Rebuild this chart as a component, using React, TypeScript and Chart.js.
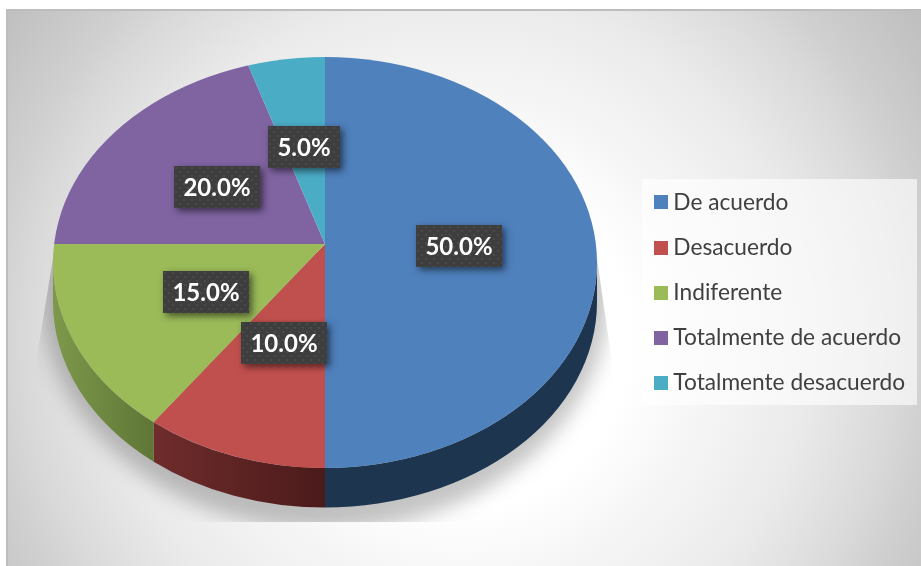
import React, { useEffect, useRef } from "react";
import { Chart, registerables } from "chart.js";

Chart.register(...registerables);

const categories = ["De acuerdo", "Desacuerdo", "Indiferente", "Totalmente de acuerdo", "Totalmente desacuerdo"];
const values = [50, 10, 15, 20, 5];
const sliceColors = ["#4f81bd", "#c0504d", "#9bbb59", "#8064a2", "#4bacc6"];
const wallColors = [
  ["#1e3550", "#1e3550"],
  ["#4b1a1a", "#6f2c2c"],
  ["#5f7636", "#7d994b"],
  ["#4d3c61", "#4d3c61"],
  ["#2d6776", "#2d6776"],
];

const W = 921;
const H = 566;
const APEX = { x: 325, y: 244 };
const ELL = { cx: 325, cy: 262.5, rx: 272, ry: 205.5 };
const DEPTH = 39.5;
const OVER = 1.2;
const LABEL_H = 42;
const LABEL_PAD = 19;

function swatch(color: string) {
  const c = document.createElement("canvas");
  c.width = 14;
  c.height = 14;
  const x = c.getContext("2d")!;
  x.fillStyle = color;
  x.fillRect(0, 0, 14, 14);
  return c;
}

function dotPattern(ctx: CanvasRenderingContext2D) {
  const c = document.createElement("canvas");
  c.width = 8;
  c.height = 8;
  const x = c.getContext("2d")!;
  x.fillStyle = "#3e3e3e";
  x.fillRect(0, 0, 8, 8);
  x.fillStyle = "#4a4a4a";
  x.fillRect(1, 1, 2, 2);
  x.fillRect(5, 5, 2, 2);
  return ctx.createPattern(c, "repeat")!;
}

function ellipseParam(a: number) {
  const oy = (APEX.y - ELL.cy) / ELL.ry;
  const dx = Math.cos(a);
  const dy = Math.sin(a);
  const b = oy * dy;
  const c = oy * oy - 1;
  const t = -b + Math.sqrt(b * b - c);
  return Math.atan2(oy + t * dy, t * dx);
}

const pieLook = {
  id: "pieLook",
  beforeDraw(chart: any) {
    const { ctx } = chart;
    ctx.save();
    ctx.fillStyle = "#ffffff";
    ctx.fillRect(0, 0, W, H);
    const R = 570;
    const g = ctx.createRadialGradient(460, 340, 0, 460, 340, R);
    g.addColorStop(0, "#ffffff");
    g.addColorStop(170 / R, "#ffffff");
    g.addColorStop(250 / R, "#f5f5f5");
    g.addColorStop(300 / R, "#f0f0f0");
    g.addColorStop(350 / R, "#eaeaea");
    g.addColorStop(411 / R, "#dedede");
    g.addColorStop(440 / R, "#d8d8d8");
    g.addColorStop(470 / R, "#d0d0d0");
    g.addColorStop(555 / R, "#c0c0c0");
    g.addColorStop(1, "#bebebe");
    ctx.fillStyle = g;
    ctx.fillRect(6, 10, W - 6, H - 10);
    ctx.fillStyle = "#bdbdbd";
    ctx.fillRect(6, 9, W - 6, 2);
    ctx.fillRect(6, 9, 2, H - 9);
    ctx.fillStyle = "rgba(255,255,255,0.62)";
    ctx.fillRect(642, 179, 275, 226);
    ctx.restore();
  },
  afterLayout(chart: any) {
    const lg = chart.legend;
    const shift = 636.5 - lg.left;
    lg.left += shift;
    lg.right += shift;
    lg.top = 168.5;
    lg.bottom = H;
  },
  beforeDatasetsDraw(chart: any) {
    const { ctx } = chart;
    const arcs = chart.getDatasetMeta(0).data;

    ctx.save();
    ctx.beginPath();
    ctx.moveTo(54, 252);
    ctx.lineTo(36, 362);
    ctx.lineTo(36, 522);
    ctx.lineTo(612, 522);
    ctx.lineTo(612, 362);
    ctx.lineTo(596, 252);
    ctx.closePath();
    ctx.clip();
    ctx.filter = "blur(10px)";
    ctx.fillStyle = "rgba(0,0,0,0.23)";
    ctx.beginPath();
    ctx.ellipse(325, 292, 284, 238, 0, 0, Math.PI * 2);
    ctx.fill();
    ctx.restore();

    arcs.forEach((el: any, i: number) => {
      const a = ellipseParam(el.startAngle);
      let b = ellipseParam(el.endAngle);
      if (b < a) b += Math.PI * 2;
      const lo = Math.max(a, 0);
      const hi = Math.min(b, Math.PI);
      if (hi <= lo) return;
      const x0 = ELL.cx + ELL.rx * Math.cos(hi);
      const x1 = ELL.cx + ELL.rx * Math.cos(lo);
      const g = ctx.createLinearGradient(x0, 0, x1, 0);
      g.addColorStop(0, wallColors[i][1]);
      g.addColorStop(1, wallColors[i][0]);
      ctx.save();
      ctx.fillStyle = g;
      ctx.beginPath();
      ctx.ellipse(ELL.cx, ELL.cy, ELL.rx, ELL.ry, 0, lo, hi);
      ctx.ellipse(ELL.cx, ELL.cy + DEPTH, ELL.rx, ELL.ry, 0, hi, lo, true);
      ctx.closePath();
      ctx.fill();
      ctx.restore();
    });

    const el = arcs[0];
    const r = el.outerRadius;
    ctx.save();
    ctx.beginPath();
    ctx.ellipse(ELL.cx, ELL.cy, ELL.rx, ELL.ry, 0, 0, Math.PI * 2);
    ctx.clip();
    ctx.translate(APEX.x, APEX.y);
    ctx.scale((ELL.rx * OVER) / r, (ELL.ry * OVER) / r);
    ctx.translate(-el.x, -el.y);
  },
  afterDatasetsDraw(chart: any) {
    const { ctx } = chart;
    ctx.restore();
    const arcs = chart.getDatasetMeta(0).data;
    const pattern = dotPattern(ctx);
    const total = values.reduce((s, v) => s + v, 0);
    arcs.forEach((el: any, i: number) => {
      const text = ((values[i] / total) * 100).toFixed(1) + "%";
      ctx.font = "bold 24px Lato";
      const boxW = Math.round(ctx.measureText(text).width + LABEL_PAD);
      const mid = (el.startAngle + el.endAngle) / 2;
      const sin = Math.sin(mid);
      const cx = APEX.x + 134 * Math.cos(mid);
      const cy = APEX.y + 2 + (sin > 0 ? 102 : 100) * sin;
      const bx = Math.round(cx - boxW / 2);
      const by = Math.round(cy - LABEL_H / 2);
      ctx.save();
      ctx.shadowColor = "rgba(0,0,0,0.55)";
      ctx.shadowBlur = 7;
      ctx.shadowOffsetX = 3;
      ctx.shadowOffsetY = 3;
      ctx.fillStyle = "#3e3e3e";
      ctx.fillRect(bx, by, boxW, LABEL_H);
      ctx.restore();
      ctx.save();
      ctx.translate(bx, by);
      ctx.fillStyle = pattern;
      ctx.fillRect(0, 0, boxW, LABEL_H);
      ctx.restore();
      ctx.save();
      ctx.fillStyle = "#ffffff";
      ctx.font = "bold 24px Lato";
      ctx.textAlign = "center";
      ctx.textBaseline = "middle";
      ctx.fillText(text, bx + boxW / 2, by + LABEL_H / 2 + 1);
      ctx.restore();
    });
  },
};

export default function App() {
  const ref = useRef<HTMLCanvasElement>(null);
  useEffect(() => {
    document.body.style.margin = "0";
    const chart = new Chart(ref.current!, {
      type: "pie",
      data: {
        labels: categories,
        datasets: [{ data: values, backgroundColor: sliceColors, borderWidth: 0, clip: false } as any],
      },
      options: {
        responsive: false,
        animation: false,
        layout: { padding: 10 },
        plugins: {
          tooltip: { enabled: false },
          legend: {
            position: "right",
            align: "start",
            labels: {
              usePointStyle: true,
              pointStyleWidth: 3,
              boxHeight: 14,
              padding: 22.5,
              color: "#404040",
              font: { family: "Lato", size: 22.7 },
              generateLabels: () =>
                categories.map((text, i) => ({
                  text,
                  fillStyle: sliceColors[i],
                  strokeStyle: sliceColors[i],
                  lineWidth: 0,
                  hidden: false,
                  index: i,
                  fontColor: "#404040",
                  pointStyle: swatch(sliceColors[i]),
                })),
            },
          },
        },
      },
      plugins: [pieLook],
    } as any);
    return () => chart.destroy();
  }, []);
  return <canvas ref={ref} width={W} height={H} style={{ display: "block" }} />;
}
